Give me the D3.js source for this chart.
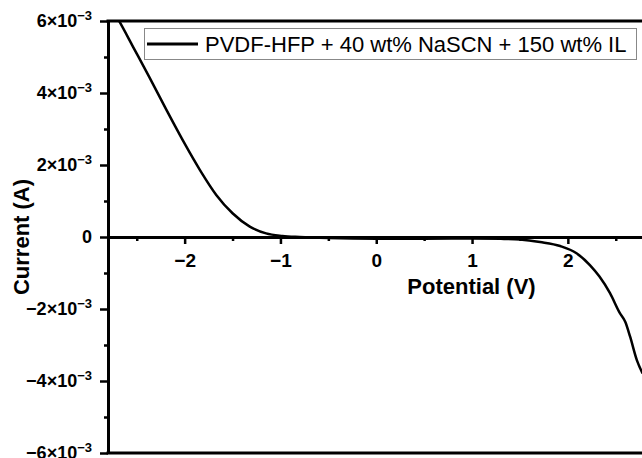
<!DOCTYPE html>
<html>
<head>
<meta charset="utf-8">
<script src="https://cdn.jsdelivr.net/npm/d3@7"></script>
<style>
  html, body { margin: 0; padding: 0; background: #fff; }
  svg { display: block; font-family: "Liberation Sans", Arial, sans-serif; }
</style>
</head>
<body>
<svg id="chart" width="642" height="458"></svg>
<script>
// Linear sweep voltammetry: potential (V) vs current (A)
const potential = [-2.75, -2.68, -2.54, -2.37, -2.19, -2.02, -1.84, -1.67, -1.50, -1.32, -1.15, -0.98,
                   -0.80, -0.50, 0.00, 0.50, 1.00, 1.30, 1.50, 1.71, 1.92, 2.09, 2.23, 2.33,
                   2.44, 2.54, 2.60, 2.65, 2.72, 2.78];
const current = [6.30e-3, 5.98e-3, 5.29e-3, 4.45e-3, 3.53e-3, 2.69e-3, 1.86e-3, 1.17e-3, 0.66e-3, 0.29e-3, 0.10e-3, 0.03e-3,
                 0.00e-3, -0.03e-3, -0.05e-3, -0.05e-3, -0.04e-3, -0.05e-3, -0.07e-3, -0.14e-3, -0.25e-3, -0.45e-3, -0.78e-3, -1.10e-3,
                 -1.56e-3, -2.10e-3, -2.36e-3, -2.77e-3, -3.42e-3, -3.79e-3];

const xMajor = [-2, -1, 0, 1, 2];
const xMinor = [-2.5, -1.5, -0.5, 0.5, 1.5, 2.5];
const yMajor = [-6e-3, -4e-3, -2e-3, 0, 2e-3, 4e-3, 6e-3];
const yMinor = [-5e-3, -3e-3, -1e-3, 1e-3, 3e-3, 5e-3];
const seriesName = "PVDF-HFP + 40 wt% NaSCN + 150 wt% IL";

const svg = d3.select("#chart");
const plotL = 108, plotR = 644.5, plotT = 21, plotB = 453;

const x = d3.scaleLinear().domain([-2.8, 2.8]).range([plotL, plotR]);
const y = d3.scaleLinear().domain([-6e-3, 6e-3]).range([plotB, plotT]);

// clip region for the curve
svg.append("defs").append("clipPath").attr("id", "plotClip")
  .append("rect").attr("x", plotL).attr("y", plotT).attr("width", plotR - plotL).attr("height", plotB - plotT);

// frame lines (top and bottom)
svg.append("line").attr("x1", plotL - 1.5).attr("x2", 642).attr("y1", plotT).attr("y2", plotT)
  .attr("stroke", "#000").attr("stroke-width", 3);
svg.append("line").attr("x1", plotL - 1.5).attr("x2", 642).attr("y1", plotB).attr("y2", plotB)
  .attr("stroke", "#000").attr("stroke-width", 3);

// y axis: minor then major ticks
const yMinorAxis = svg.append("g").attr("transform", `translate(${plotL},0)`)
  .call(d3.axisLeft(y).tickValues(yMinor).tickSize(4).tickFormat(""));
yMinorAxis.select(".domain").remove();
yMinorAxis.selectAll(".tick line").attr("stroke-width", 2.5);

const yAxis = svg.append("g").attr("transform", `translate(${plotL},0)`)
  .call(d3.axisLeft(y).tickValues(yMajor).tickSize(8).tickSizeOuter(0).tickPadding(8));
yAxis.select(".domain").attr("stroke-width", 3);
yAxis.selectAll(".tick line").attr("stroke-width", 2.5);
yAxis.selectAll(".tick text")
  .attr("font-size", 18).attr("font-weight", "bold").attr("fill", "#000")
  .each(function(d) {
    const t = d3.select(this);
    t.text(null);
    if (d === 0) { t.text("0"); return; }
    const m = Math.round(d / 1e-3);
    t.append("tspan").text((m < 0 ? "\u2212" : "") + Math.abs(m) + "\u00d710");
    t.append("tspan").attr("font-size", 13).attr("dy", "-0.55em").text("\u22123");
  });

// x axis along zero current
const x0 = y(0);
const xMinorAxis = svg.append("g").attr("transform", `translate(0,${x0})`)
  .call(d3.axisBottom(x).tickValues(xMinor).tickSize(4).tickFormat(""));
xMinorAxis.select(".domain").remove();
xMinorAxis.selectAll(".tick line").attr("stroke-width", 2.5);

const xAxis = svg.append("g").attr("transform", `translate(0,${x0})`)
  .call(d3.axisBottom(x).tickValues(xMajor).tickSize(7).tickSizeOuter(0).tickPadding(10)
    .tickFormat(d => d < 0 ? "\u2212" + Math.abs(d) : String(d)));
xAxis.select(".domain").attr("stroke-width", 3);
xAxis.selectAll(".tick line").attr("stroke-width", 2.5);
xAxis.selectAll(".tick text").attr("font-size", 19).attr("font-weight", "bold").attr("fill", "#000");

// curve
const line = d3.line().x((d, i) => x(potential[i])).y(d => y(d)).curve(d3.curveMonotoneX);
svg.append("path").datum(current)
  .attr("clip-path", "url(#plotClip)")
  .attr("fill", "none").attr("stroke", "#000").attr("stroke-width", 2.5)
  .attr("stroke-linejoin", "round")
  .attr("d", line);

// axis titles
svg.append("text").attr("x", 471.5).attr("y", 294)
  .attr("text-anchor", "middle").attr("font-size", 22).attr("font-weight", "bold")
  .text("Potential (V)");
svg.append("text").attr("transform", `translate(29,${(plotT + plotB) / 2}) rotate(-90)`)
  .attr("text-anchor", "middle").attr("font-size", 22).attr("font-weight", "bold")
  .text("Current (A)");

// legend
const lg = svg.append("g");
lg.append("rect").attr("x", 144.5).attr("y", 28.5).attr("width", 492).attr("height", 31)
  .attr("fill", "#fff").attr("stroke", "#888").attr("stroke-width", 1);
lg.append("line").attr("x1", 147).attr("x2", 198).attr("y1", 44).attr("y2", 44)
  .attr("stroke", "#000").attr("stroke-width", 3);
lg.append("text").attr("x", 205).attr("y", 52).attr("font-size", 22).attr("fill", "#000")
  .text(seriesName);
</script>
</body>
</html>
